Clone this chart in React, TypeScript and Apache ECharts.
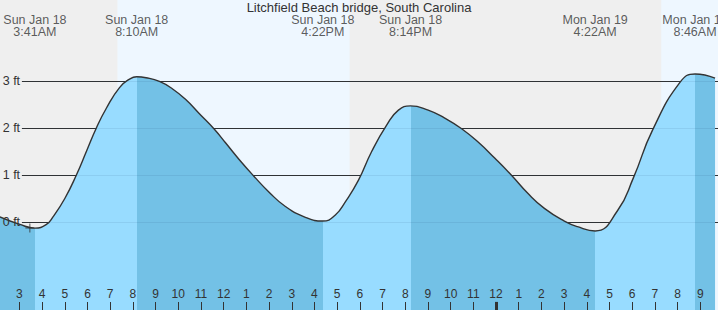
import React, { useEffect, useRef } from 'react';
import * as echarts from 'echarts';

const TITLE = 'Litchfield Beach bridge, South Carolina';

// hours since Sun Jan 18 00:00, tide height in ft
const TIDE_HOURS = [2.14, 3.02, 3.68, 4.19, 4.48, 5.0, 5.51, 5.95, 6.39, 6.83, 7.41, 7.85, 8.17, 8.58, 9.17, 9.75, 10.34, 10.92, 11.58, 12.09, 12.68, 13.34, 13.99, 14.72, 15.6, 16.37, 16.92, 17.36, 17.94, 18.52, 19.18, 19.7, 20.23, 21.01, 21.74, 22.47, 23.21, 23.94, 24.67, 25.4, 26.13, 27.01, 27.59, 28.37, 29.35, 30.06, 30.89, 32.12, 32.77, 33.65];
const TIDE_FT = [0.11, -0.05, -0.13, -0.05, 0.11, 0.5, 1.0, 1.5, 2.0, 2.42, 2.86, 3.04, 3.09, 3.07, 2.99, 2.83, 2.6, 2.31, 1.98, 1.68, 1.33, 0.97, 0.64, 0.33, 0.1, 0.02, 0.15, 0.43, 0.89, 1.5, 2.06, 2.38, 2.47, 2.38, 2.21, 1.99, 1.7, 1.36, 1.0, 0.61, 0.29, 0.02, -0.1, -0.19, 0.24, 0.95, 1.95, 2.98, 3.15, 3.06];

const EXTREME_HOURS = [3.683, 8.167, 16.367, 20.233, 28.367, 32.767];
const EXTREME_IS_LOW = [true, false, true, false, true, false];
const EXTREME_LABELS = [
  'Sun Jan 18\n3:41AM',
  'Sun Jan 18\n8:10AM',
  'Sun Jan 18\n4:22PM',
  'Sun Jan 18\n8:14PM',
  'Mon Jan 19\n4:22AM',
  'Mon Jan 19\n8:46AM',
];
const DAYLIGHT = [
  [7.32, 17.55],
  [31.28, 34],
];
const FT_TICKS = [0, 1, 2, 3];
const MIDNIGHT = 24;
const NOW = [3.46, -0.13];

const X_MIN = 2;
const X_MAX = 34;
const Y_MIN = -2;
const Y_MAX = 5;
const GRID_X0 = 3.11;
const LABEL_FT = 4.17;

const DARK = '#73c1e6';
const LIGHT = '#98dcff';
const FONT = "'Liberation Sans', Arial, sans-serif";
const TXT = '#333';

function buildPieces() {
  const pieces: any[] = [];
  pieces.push({ lt: EXTREME_HOURS[0], color: EXTREME_IS_LOW[0] ? DARK : LIGHT });
  for (let i = 0; i < EXTREME_HOURS.length - 1; i++) {
    pieces.push({
      gte: EXTREME_HOURS[i],
      lt: EXTREME_HOURS[i + 1],
      color: EXTREME_IS_LOW[i] ? LIGHT : DARK,
    });
  }
  const last = EXTREME_HOURS.length - 1;
  pieces.push({ gte: EXTREME_HOURS[last], color: EXTREME_IS_LOW[last] ? LIGHT : DARK });
  return pieces;
}

export default function App() {
  const ref = useRef<HTMLDivElement>(null);
  useEffect(() => {
    if (!ref.current) return;
    const chart = echarts.init(ref.current, undefined, { renderer: 'svg' });
    const tide = TIDE_HOURS.map((h, i) => [h, TIDE_FT[i]]);
    const gridLines = FT_TICKS.map((v) => [{ coord: [GRID_X0, v] }, { coord: [X_MAX, v] }]);
    chart.setOption({
      animation: false,
      backgroundColor: '#efefef',
      title: {
        text: TITLE,
        left: 'center',
        top: 14,
        padding: 0,
        textStyle: { fontFamily: FONT, fontSize: 13, fontWeight: 'normal', color: TXT },
      },
      grid: { left: 4.72, right: 0, top: 0, bottom: 0, containLabel: false },
      xAxis: {
        type: 'value',
        min: X_MIN,
        max: X_MAX,
        interval: 1,
        z: 10,
        axisLine: { show: false, onZero: false },
        splitLine: { show: false },
        axisTick: { show: true, inside: true, length: 14, lineStyle: { color: TXT, width: 1 } },
        axisLabel: {
          inside: true,
          margin: 16,
          fontFamily: FONT,
          fontSize: 12,
          color: TXT,
          formatter: (v: number) => {
            if (v < 3 || v > 33) return '';
            const h = Math.round(v) % 12;
            return String(h === 0 ? 12 : h);
          },
        },
      },
      yAxis: {
        type: 'value',
        min: Y_MIN,
        max: Y_MAX,
        interval: 1,
        z: 10,
        axisLine: { show: false, onZero: false },
        axisTick: { show: false },
        splitLine: { show: false },
        axisLabel: {
          inside: true,
          margin: 6,
          fontFamily: FONT,
          fontSize: 12.5,
          color: TXT,
          formatter: (v: number) => (v >= 0 && v <= 3 ? v + ' ft' : ''),
        },
      },
      visualMap: {
        type: 'piecewise',
        show: false,
        dimension: 0,
        seriesIndex: 1,
        pieces: buildPieces(),
      },
      series: [
        {
          type: 'line',
          data: [],
          silent: true,
          markArea: {
            silent: true,
            z: 1,
            itemStyle: { color: '#eef7ff' },
            data: DAYLIGHT.map((d) => [{ xAxis: d[0] }, { xAxis: d[1] }]),
          },
          markLine: {
            silent: true,
            z: 2,
            symbol: 'none',
            label: { show: false },
            lineStyle: { color: '#333', width: 1, type: 'solid' },
            data: gridLines,
          },
        },
        {
          type: 'line',
          z: 3,
          data: tide,
          smooth: 0.5,
          symbol: 'none',
          silent: true,
          lineStyle: { color: '#333', width: 1.4 },
          areaStyle: { opacity: 1, origin: 'start' },
        },
        {
          type: 'line',
          data: [],
          silent: true,
          markLine: {
            silent: true,
            z: 4,
            symbol: 'none',
            label: { show: false },
            lineStyle: { color: 'rgba(0,40,80,0.08)', width: 1, type: 'solid' },
            data: [
              ...gridLines,
              [
                { coord: [MIDNIGHT, Y_MIN], lineStyle: { color: '#333', width: 3 } },
                { coord: [MIDNIGHT, -1.7] },
              ],
            ],
          },
        },
        {
          type: 'scatter',
          z: 5,
          silent: true,
          symbolSize: 0,
          data: EXTREME_HOURS.map((h) => [h, LABEL_FT]),
          label: {
            show: true,
            position: 'inside',
            formatter: (p: any) => EXTREME_LABELS[p.dataIndex],
            fontFamily: FONT,
            fontSize: 12.5,
            lineHeight: 12,
            color: TXT,
            align: 'center',
            verticalAlign: 'middle',
          },
        },
        {
          type: 'scatter',
          z: 6,
          silent: true,
          symbol: 'path://M4,0H5V9H4Z M0,4H9V5H0Z',
          symbolSize: 9,
          itemStyle: { color: '#333' },
          data: [NOW],
        },
      ],
    });
    return () => chart.dispose();
  }, []);
  return (
    <div
      style={{
        position: 'fixed',
        left: 0,
        top: 0,
        width: 718,
        height: 310,
        overflow: 'hidden',
      }}
    >
      <div
        ref={ref}
        style={{ position: 'absolute', left: -8, top: -13, width: 734, height: 329 }}
      />
    </div>
  );
}
